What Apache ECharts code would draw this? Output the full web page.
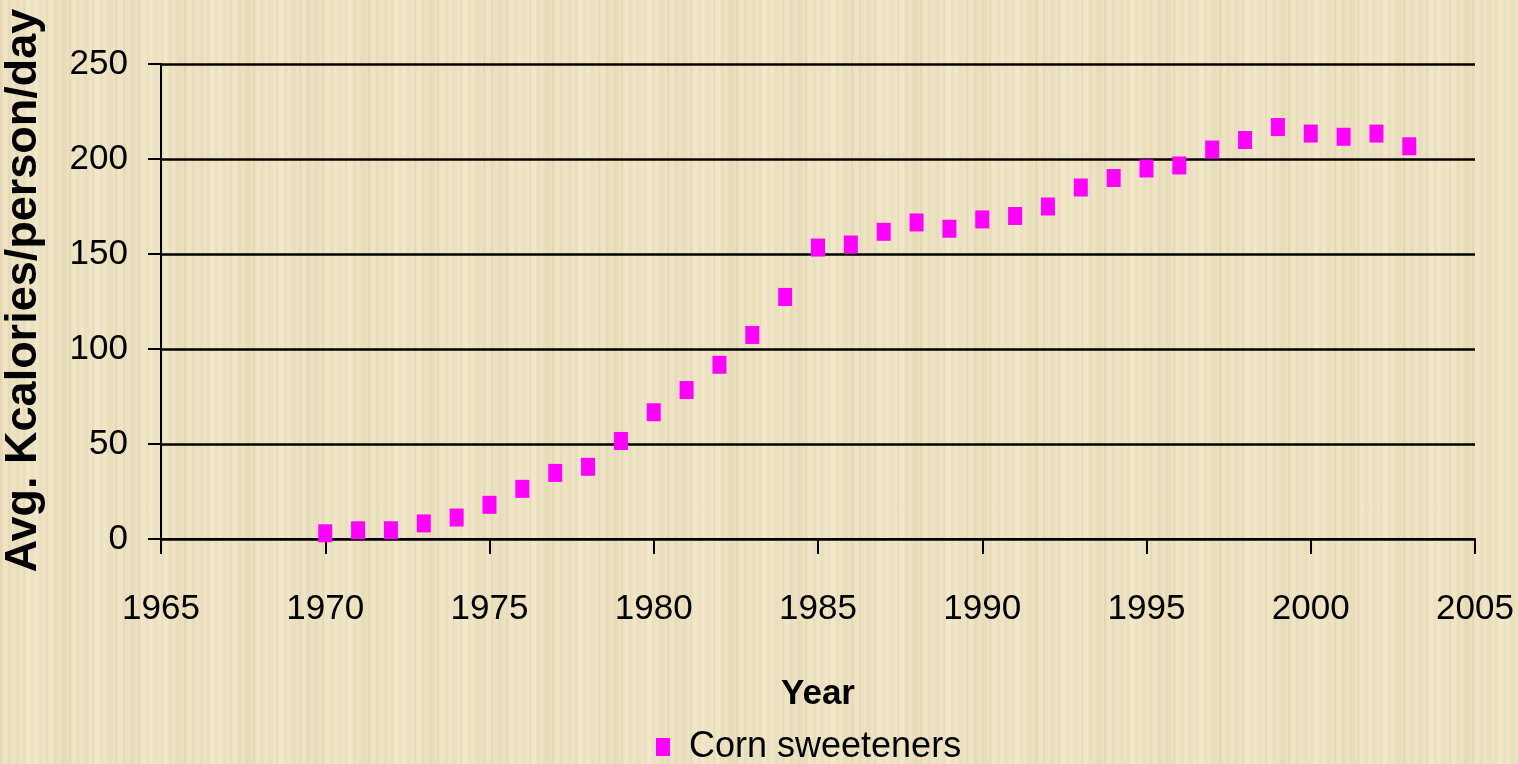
<!DOCTYPE html>
<html>
<head>
<meta charset="utf-8">
<script src="https://cdn.jsdelivr.net/npm/echarts@6/dist/echarts.min.js"></script>
<style>
html,body{margin:0;padding:0;width:1518px;height:764px;overflow:hidden;}
body{
  background-color:#efe4c2;
  background-image:
    repeating-linear-gradient(90deg, rgba(160,140,100,0.09) 0px, rgba(160,140,100,0.09) 2px, rgba(255,250,230,0.14) 3px, rgba(255,250,230,0.14) 7px, rgba(150,130,90,0.07) 9px, rgba(255,255,240,0.12) 13px, rgba(170,150,110,0.08) 17px, rgba(255,250,230,0.06) 23px),
    repeating-linear-gradient(90deg, rgba(140,120,80,0.05) 0px, rgba(255,255,240,0.09) 37px, rgba(140,120,80,0.04) 61px);
}
#chart{width:1518px;height:764px;}
</style>
</head>
<body>
<div id="chart"></div>
<script>
const years = [1970,1971,1972,1973,1974,1975,1976,1977,1978,1979,1980,1981,1982,1983,1984,1985,1986,1987,1988,1989,1990,1991,1992,1993,1994,1995,1996,1997,1998,1999,2000,2001,2002,2003];
const cornSweeteners = [3,4.6,4.6,8.2,11.3,18,26.4,34.8,38,51.6,66.7,78.4,91.7,107.4,127.4,153.4,155,161.7,166.6,163.3,168.2,170,175,185,190,195,196.6,205,210,216.8,213.4,211.7,213.4,206.7];
const seriesName = 'Corn sweeteners';
const xAxisTitle = 'Year';
const yAxisTitle = 'Avg. Kcalories/person/day';

const chart = echarts.init(document.getElementById('chart'), null, {renderer:'canvas'});
const font = '"Liberation Sans",Arial,sans-serif';

chart.setOption({
  backgroundColor:'transparent',
  animation:false,
  grid:{left:161,right:43,top:64,bottom:225,containLabel:false,outerBoundsMode:'none'},
  legend:{
    data:[seriesName],
    top:724,
    left:651,
    itemWidth:14,
    itemHeight:18,
    itemGap:10,
    icon:'rect',
    textStyle:{fontFamily:font,fontSize:36,color:'#000',padding:[0,0,0,14]}
  },
  xAxis:{
    type:'value',
    min:1965,max:2005,interval:5,
    name:xAxisTitle,
    nameLocation:'middle',
    nameGap:138,
    nameTextStyle:{fontFamily:font,fontSize:35,fontWeight:'bold',color:'#000'},
    axisLine:{show:true,onZero:false,lineStyle:{color:'#000',width:2}},
    axisTick:{show:true,length:15,lineStyle:{color:'#000',width:2}},
    axisLabel:{margin:53,fontFamily:font,fontSize:35,color:'#000',formatter:v=>String(v)},
    splitLine:{show:false}
  },
  yAxis:{
    type:'value',
    min:0,max:250,interval:50,
    name:yAxisTitle,
    nameLocation:'middle',
    nameGap:115,
    nameRotate:90,
    nameTextStyle:{fontFamily:font,fontSize:45,fontWeight:'bold',color:'#000',padding:[0,0,0,22]},
    axisLine:{show:true,lineStyle:{color:'#000',width:2}},
    axisTick:{show:true,length:13,lineStyle:{color:'#000',width:2}},
    axisLabel:{margin:33,fontFamily:font,fontSize:35,color:'#000'},
    splitLine:{show:true,lineStyle:{color:'#000',width:2.5}}
  },
  series:[{
    name:seriesName,
    type:'scatter',
    data:years.map((y,i)=>[y,cornSweeteners[i]]),
    symbol:'rect',
    symbolSize:[14,18],
    itemStyle:{color:'#ff00ff',opacity:1}
  }]
});
</script>
</body>
</html>
